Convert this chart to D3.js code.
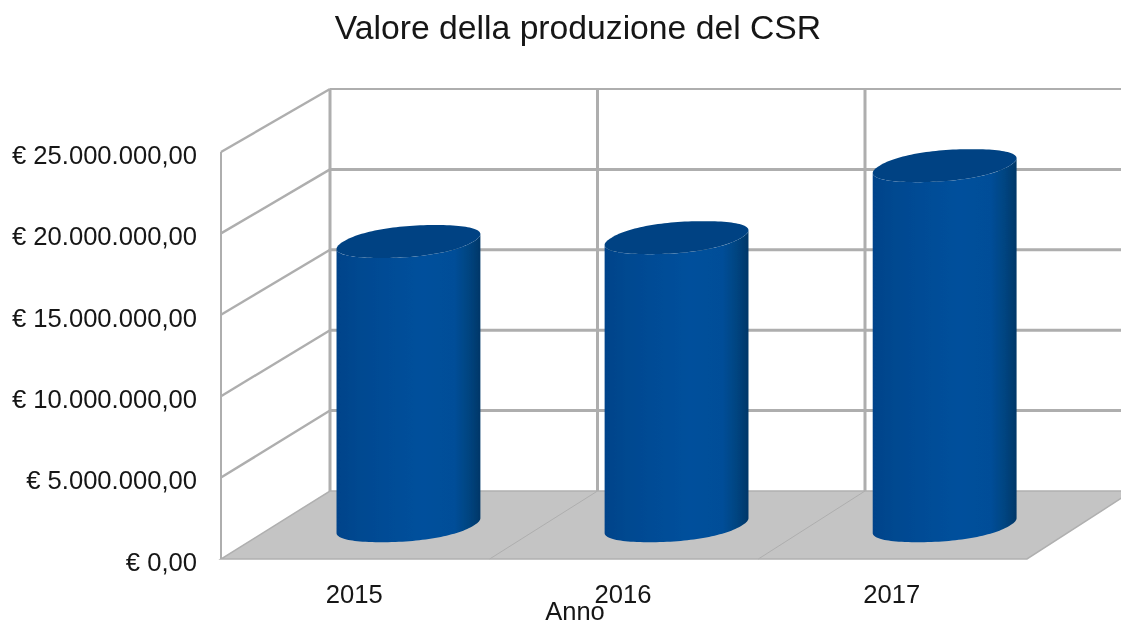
<!DOCTYPE html>
<meta charset="utf-8">
<style type="text/css">

body { margin: 0; background: #fff; }

svg { display: block; }

text {
    font-family: "Liberation Sans", Arial, sans-serif;
    fill: #141414;
}

.grid {
    fill: none;
    stroke: #aeaeae;
}

</style>
<body>
</body>

<script src="https://d3js.org/d3.v7.min.js"></script>
<script>

var width = 1121
  , height = 621;

var title = "Valore della produzione del CSR";
var xTitle = "Anno";

var years = ["2015", "2016", "2017"];
var values = [17560000, 17800000, 22250000];
var yTicks = [0, 5000000, 10000000, 15000000, 20000000, 25000000];

var locale = d3.formatLocale({
    decimal: ",", thousands: ".", grouping: [3], currency: ["€ ", ""]
});

// front edge of the box
var xScale = d3.scaleBand()
    .domain(years)
    .range([221, 1027]);

var yScale = d3.scaleLinear()
    .domain([0, 25000000])
    .range([559, 152]);

// back wall, slightly smaller than the front
var xBack = d3.scaleBand()
    .domain(years)
    .range([330, 1132.5]);

var yBack = d3.scaleLinear()
    .domain([0, 25000000])
    .range([491, 89]);

var svg = d3.select("body").append("svg")
    .attr("width", width)
    .attr("height", height);

var defs = svg.append("defs");

var gradient = defs.append("linearGradient")
    .attr("id", "cyl");

[[0, "#00438a"], [0.15, "#004890"], [0.35, "#004c96"], [0.6, "#00509c"],
 [0.82, "#004e98"], [0.92, "#004480"], [1, "#003768"]].forEach(function(s) {
    gradient.append("stop").attr("offset", s[0]).attr("stop-color", s[1]);
});

defs.append("filter").attr("id", "soft")
    .append("feGaussianBlur").attr("stdDeviation", 0.7);

defs.append("filter").attr("id", "softText")
    .append("feGaussianBlur").attr("stdDeviation", 0.4);

var plot = svg.append("g").attr("filter", "url(#soft)");
var labels = svg.append("g").attr("filter", "url(#softText)");

var frontEdges = years.map(function(d) { return xScale(d); }).concat([xScale.range()[1]]);
var backEdges = years.map(function(d) { return xBack(d); }).concat([xBack.range()[1]]);
var edges = d3.zip(frontEdges, backEdges);

// back wall
plot.selectAll(".back-h")
    .data(yTicks.slice(1))
  .enter().append("line")
    .attr("class", "grid back-h")
    .attr("x1", xBack.range()[0])
    .attr("x2", xBack.range()[1])
    .attr("y1", function(d) { return yBack(d); })
    .attr("y2", function(d) { return yBack(d); })
    .attr("stroke-width", function(d) { return d === 25000000 ? 2 : 3; });

plot.selectAll(".back-v")
    .data(backEdges.slice(0, 3))
  .enter().append("line")
    .attr("class", "grid back-v")
    .attr("x1", function(d) { return d; })
    .attr("x2", function(d) { return d; })
    .attr("y1", yBack(0))
    .attr("y2", yBack(25000000))
    .attr("stroke-width", 3);

// floor
var floor = d3.line()([
    [xScale.range()[0], yScale(0)],
    [xScale.range()[1], yScale(0)],
    [xBack.range()[1], yBack(0)],
    [xBack.range()[0], yBack(0)]
]) + "Z";

plot.append("path")
    .attr("d", floor)
    .attr("fill", "#c4c4c4")
    .attr("stroke", "#b0b0b0")
    .attr("stroke-width", 1.5);

plot.selectAll(".floor-line")
    .data(edges.slice(1, 3))
  .enter().append("line")
    .attr("class", "grid floor-line")
    .attr("x1", function(d) { return d[0]; })
    .attr("x2", function(d) { return d[1]; })
    .attr("y1", yScale(0))
    .attr("y2", yBack(0))
    .attr("stroke-width", 1);

// left wall
plot.selectAll(".side")
    .data(yTicks.slice(1))
  .enter().append("line")
    .attr("class", "grid side")
    .attr("x1", xScale.range()[0])
    .attr("x2", xBack.range()[0])
    .attr("y1", function(d) { return yScale(d); })
    .attr("y2", function(d) { return yBack(d); })
    .attr("stroke-width", 2.4);

plot.append("line")
    .attr("class", "grid")
    .attr("x1", xScale.range()[0])
    .attr("x2", xScale.range()[0])
    .attr("y1", yScale(0))
    .attr("y2", yScale(25000000))
    .attr("stroke-width", 2);

// cylinders stand half way between the front edge and the back wall
var mid = 0.49;

function centerX(d) {
    var front = xScale(d) + xScale.bandwidth() / 2
      , back = xBack(d) + xBack.bandwidth() / 2;
    return front + (back - front) * mid;
}

function levelY(v) {
    return yScale(v) + (yBack(v) - yScale(v)) * mid;
}

// the disc is a skewed ellipse with blunt ends
var discA = 65
  , discSkew = 27
  , discH = 16.5
  , discPow = 0.9;

function blunt(c) {
    return (c < 0 ? -1 : 1) * Math.pow(Math.abs(c), discPow);
}

function discPoint(cx, cy, t) {
    var c = blunt(Math.cos(t))
      , s = blunt(Math.sin(t));
    return [
        cx + c * discA + s * discSkew,
        cy - s * discH
    ];
}

// angle where the outline of the disc is widest
var tEdge = d3.greatest(d3.range(0, 1.57, 0.01), function(t) { return discPoint(0, 0, t)[0]; });

var bars = plot.selectAll(".bar")
    .data(years)
  .enter().append("g")
    .attr("class", "bar");

bars.append("path")
    .attr("fill", "url(#cyl)")
    .attr("d", function(d, i) {
        var lower = d3.range(0, 65).map(function(k) {
            // lower half of the base disc, right edge round to left edge
            return discPoint(centerX(d), levelY(0), tEdge - Math.PI * k / 64);
        });
        var upper = d3.range(0, 65).map(function(k) {
            // lower half of the top disc, left edge back to right edge
            return discPoint(centerX(d), levelY(values[i]), tEdge - Math.PI + Math.PI * k / 64);
        });
        return d3.line()(lower.concat(upper)) + "Z";
    });

bars.append("path")
    .attr("fill", "#004383")
    .attr("d", function(d, i) {
        var pts = d3.range(0, 128).map(function(k) {
            return discPoint(centerX(d), levelY(values[i]), Math.PI * 2 * k / 128);
        });
        return d3.line()(pts) + "Z";
    });

// axes
var yAxis = d3.axisLeft(yScale)
    .tickValues(yTicks)
    .tickSize(0)
    .tickPadding(24)
    .tickFormat(locale.format("$,.2f"));

var xAxis = d3.axisBottom(xScale)
    .tickSize(0)
    .tickPadding(26);

labels.append("g")
    .attr("transform", "translate(" + xScale.range()[0] + ",0)")
    .call(yAxis)
    .call(function(g) { g.select(".domain").remove(); })
    .selectAll("text")
    .attr("font-size", 25.6)
    .attr("font-family", null)
    .attr("dy", "0.44em");

labels.append("g")
    .attr("transform", "translate(-1," + yScale(0) + ")")
    .call(xAxis)
    .call(function(g) { g.select(".domain").remove(); })
    .selectAll("text")
    .attr("font-size", 25.6)
    .attr("font-family", null);

labels.append("text")
    .attr("x", 578)
    .attr("y", 39)
    .attr("text-anchor", "middle")
    .attr("font-size", 33.7)
    .text(title);

labels.append("text")
    .attr("x", 575)
    .attr("y", 620)
    .attr("text-anchor", "middle")
    .attr("font-size", 25.5)
    .text(xTitle);

</script>
